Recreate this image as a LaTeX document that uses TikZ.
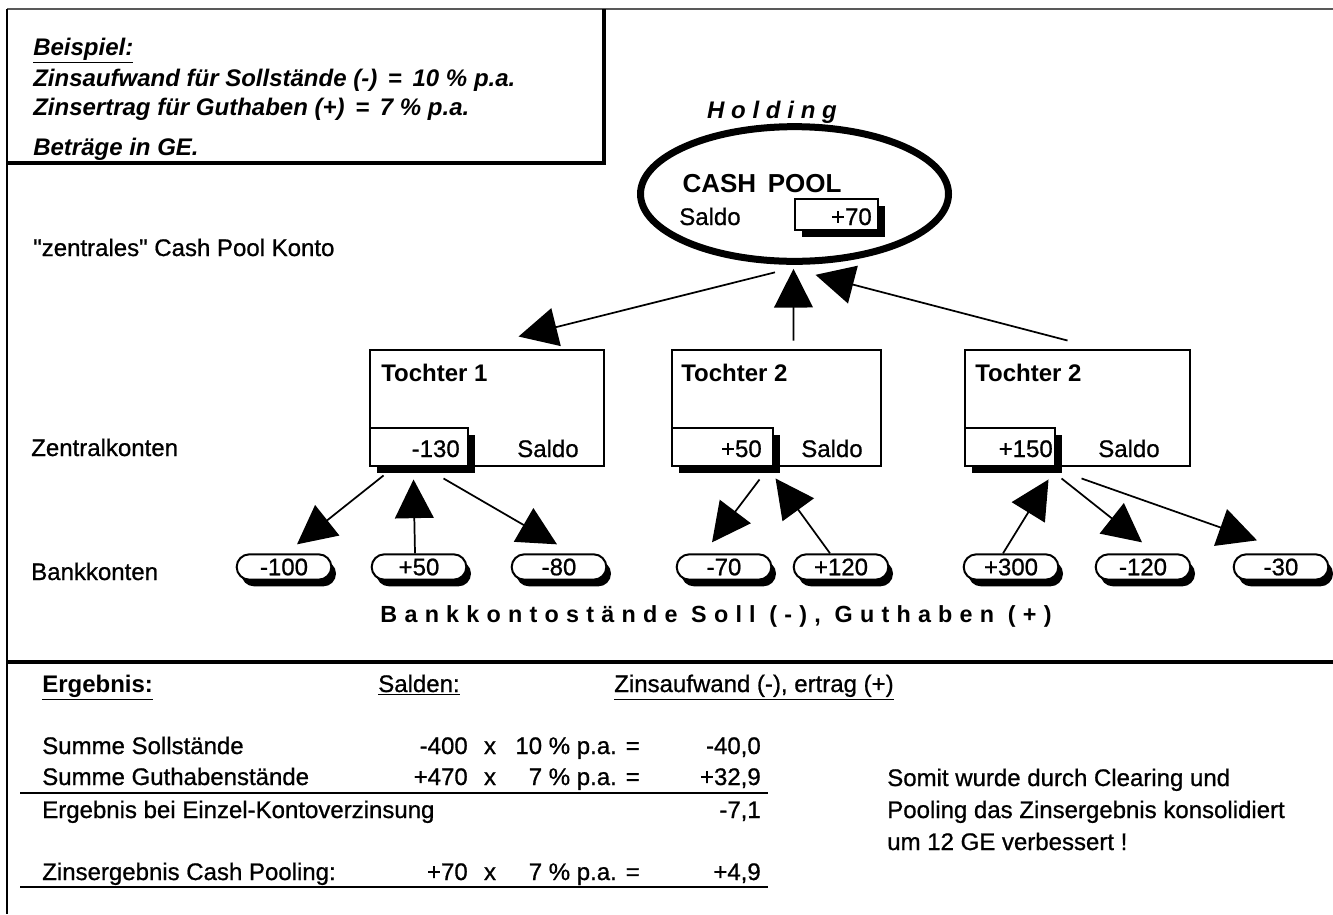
\documentclass[tikz,border=0pt]{standalone}
\usepackage{fontspec}
\setmainfont{Liberation Sans}
\newfontfamily\rfont[FakeBold=0.8]{Liberation Sans}
\usetikzlibrary{arrows.meta,shapes.geometric,shapes.misc,shadows,calc,fit}
\tikzset{
  t/.style={inner sep=0pt, font=\rfont\fontsize{18}{21}\selectfont},
  tb/.style={inner sep=0pt, font=\fontsize{18}{21}\selectfont\bfseries},
  tbi/.style={inner sep=0pt, font=\fontsize{18}{21}\selectfont\bfseries\itshape},
  tbox/.style={draw, line width=2.2pt, inner sep=0pt},
  ibox/.style={draw, fill=white, line width=1.5pt, inner sep=0pt,
    drop shadow={shadow xshift=5pt, shadow yshift=-5.5pt, opacity=1, fill=black}},
  pill/.style={rounded rectangle, draw, fill=white, line width=1.5pt,
    minimum width=71pt, minimum height=19pt, inner sep=0pt,
    font=\rfont\fontsize{18}{21}\selectfont,
    drop shadow={shadow xshift=3.5pt, shadow yshift=-5pt, opacity=1, fill=black}},
  arr/.style={line width=1.3pt, -{Triangle[length=29pt, width=29pt]}},
  rule/.style={line width=2.2pt}
}
\begin{document}
\begin{tikzpicture}[x=0.75pt,y=-0.75pt]
\useasboundingbox (0,0) rectangle (1333,914);
\fill[white] (0,0) rectangle (1333,914);

% frame lines
\draw[line width=1.2pt, black!65] (7,9) -- (1333,9);
\draw[line width=1.5pt] (7,9) -- (7,914);
\draw[line width=3pt] (604,9) -- (604,163) -- (7,163);
\draw[line width=3pt] (7,662) -- (1333,662);

% example box texts
\node[tbi, anchor=base west] (bsp) at (33,55) {\underline{Beispiel:}};
\node[tbi, anchor=base west] (za) at (33,86) {Zinsaufwand für Sollstände (-) \,=\, 10 \% p.a.};
\node[tbi, anchor=base west] (ze) at (33,115) {Zinsertrag für Guthaben (+) \,=\, 7 \% p.a.};
\node[tbi, anchor=base west] (bg) at (33,155) {Beträge in GE.};

% row labels
\node[t, anchor=base west] (zk) at (33,256) {\symbol{34}zentrales\symbol{34} Cash Pool Konto};
\node[t, anchor=base west] (zkt) at (31,456) {Zentralkonten};
\node[t, anchor=base west] (bkt) at (31,580) {Bankkonten};

% holding / cash pool
\node[inner sep=0pt, anchor=base, font=\fontsize{18}{21}\selectfont\bfseries\itshape\addfontfeatures{LetterSpace=28}] (hold) at (772,118) {Holding};
\node[ellipse, draw, line width=5.25pt, minimum width=231pt, minimum height=101pt, inner sep=0pt] (cp) at (794.5,194) {};
\node[inner sep=0pt, anchor=base, font=\fontsize{19.5}{22}\selectfont\bfseries] (cpt) at (762,192) {CASH\, POOL};
\node[t, anchor=base west] (cps) at (679,225) {Saldo};
\node[ibox, fit={(795,199) (878,230)}] (cpv) {};
\node[t, anchor=base east] at (872,225) {+70};

% daughters
\node[tbox, fit={(370,350) (604,466)}] (t1) {};
\node[ibox, fit={(370,428) (468,466)}] (i1) {};
\node[tb, anchor=base west] at (381,381) {Tochter 1};
\node[t, anchor=base east] at (460,457) {-130};
\node[t, anchor=base west] at (517,457) {Saldo};

\node[tbox, fit={(672,350) (881,466)}] (t2) {};
\node[ibox, fit={(672,428) (773,466)}] (i2) {};
\node[tb, anchor=base west] at (681,381) {Tochter 2};
\node[t, anchor=base east] at (762,457) {+50};
\node[t, anchor=base west] at (801,457) {Saldo};

\node[tbox, fit={(965,350) (1190,466)}] (t3) {};
\node[ibox, fit={(965,428) (1055,466)}] (i3) {};
\node[tb, anchor=base west] at (975,381) {Tochter 2};
\node[t, anchor=base east] at (1053,457) {+150};
\node[t, anchor=base west] at (1098,457) {Saldo};

% bank accounts
\node[pill] (b1) at (284,567) {-100};
\node[pill] (b2) at (419,567) {+50};
\node[pill] (b3) at (559,567) {-80};
\node[pill] (b4) at (724,567) {-70};
\node[pill] (b5) at (841,567) {+120};
\node[pill] (b6) at (1011,567) {+300};
\node[pill] (b7) at (1143,567) {-120};
\node[pill] (b8) at (1281,567) {-30};

\node[inner sep=0pt, anchor=base, font=\fontsize{17.5}{21}\selectfont\bfseries\addfontfeatures{LetterSpace=31}] (bks) at (716,622) {Bankkontostände Soll (-), Guthaben (+)};

% connectors cash pool
\draw[arr] ($(cp.south)+(-19.5,7.5)$) -- ($(t1.north west)+(150,-12)$);
\draw[arr] ($(t2.north west)+(123,-8)$) -- ($(cp.south)+(-1,4)$);
\draw[arr] ($(t3.north west)+(104,-8)$) -- ($(cp.south)+(21,10)$);

% connectors bank accounts
\draw[arr] ($(t1.south west)+(15,8)$) -- ($(b1.north)+(13,-9)$);
\draw[arr] ($(b2.north)+(-4,0)$) -- ($(t1.south west)+(45,12)$);
\draw[arr] ($(t1.south west)+(75,11)$) -- ($(b3.north)+(-2,-9)$);
\draw[arr] ($(t2.south west)+(89,12)$) -- ($(b4.north)+(-12,-11)$);
\draw[arr] ($(b5.north)+(-11,0)$) -- ($(t2.south west)+(105,11)$);
\draw[arr] ($(b6.north)+(-8,0)$) -- ($(t3.south west)+(85,12)$);
\draw[arr] ($(t3.south west)+(98,11)$) -- ($(b7.north)+(-1,-11)$);
\draw[arr] ($(t3.south west)+(118,11)$) -- ($(b8.north)+(-24,-13)$);

% result table
\node[tb, anchor=base west] at (42,692) {\underline{Ergebnis:}};
\node[t, anchor=base west] at (378,692) {\underline{Salden:}};
\node[t, anchor=base west] at (614,692) {\underline{Zinsaufwand (-), ertrag (+)}};

\node[t, anchor=base west] at (42,754) {Summe Sollstände};
\node[t, anchor=base east] at (468,754) {-400};
\node[t, anchor=base] at (490,754) {x};
\node[t, anchor=base east] at (640,754) {10 \% p.a. =};
\node[t, anchor=base east] at (761,754) {-40,0};

\node[t, anchor=base west] at (42,785) {Summe Guthabenstände};
\node[t, anchor=base east] at (468,785) {+470};
\node[t, anchor=base] at (490,785) {x};
\node[t, anchor=base east] at (640,785) {7 \% p.a. =};
\node[t, anchor=base east] at (761,785) {+32,9};
\draw[rule] (20,793) -- (768,793);

\node[t, anchor=base west] at (42,818) {Ergebnis bei Einzel-Kontoverzinsung};
\node[t, anchor=base east] at (761,818) {-7,1};

\node[t, anchor=base west] at (42,880) {Zinsergebnis Cash Pooling:};
\node[t, anchor=base east] at (468,880) {+70};
\node[t, anchor=base] at (490,880) {x};
\node[t, anchor=base east] at (640,880) {7 \% p.a. =};
\node[t, anchor=base east] at (761,880) {+4,9};
\draw[rule] (20,887) -- (768,887);

\node[t, anchor=base west] at (887,786) {Somit wurde durch Clearing und};
\node[t, anchor=base west] at (887,818) {Pooling das Zinsergebnis konsolidiert};
\node[t, anchor=base west] at (887,850) {um 12 GE verbessert !};
\end{tikzpicture}
\end{document}
